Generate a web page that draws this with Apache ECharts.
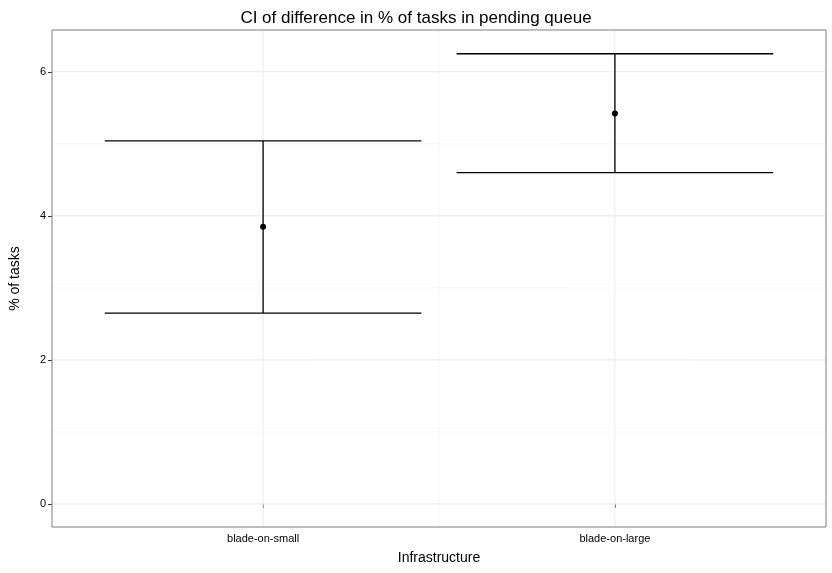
<!DOCTYPE html>
<html><head><meta charset="utf-8">
<script src="https://cdn.jsdelivr.net/npm/echarts@6/dist/echarts.min.js"></script>
<style>html,body{margin:0;padding:0;background:#fff}#c{width:832px;height:573px}</style>
</head><body><div id="c"></div>
<script>
const categories = ["blade-on-small", "blade-on-large"];
const estimate = [3.85, 5.42];
const lower = [2.65, 4.60];
const upper = [5.04, 6.25];
const yTicks = [0, 2, 4, 6];

const chart = echarts.init(document.getElementById('c'));
const data = categories.map((c, i) => [i + 1, estimate[i], lower[i], upper[i]]);
const grey = '#ebebeb';
chart.setOption({
  animation: false,
  title: {text: 'CI of difference in % of tasks in pending queue', left: 'center', top: 5,
    textStyle: {fontFamily: 'Liberation Sans', fontWeight: 'normal', fontSize: 17, color: '#000'}},
  grid: {left: 47, right: 6, top: 30, bottom: 46},
  xAxis: {type: 'value', min: 0.4, max: 2.6, interval: 0.5,
    name: 'Infrastructure', nameLocation: 'middle', nameGap: 24,
    nameTextStyle: {fontFamily: 'Liberation Sans', fontSize: 14, color: '#000'},
    axisLine: {show: false},
    axisTick: {show: true, length: 4, lineStyle: {color: '#333'}, customValues: [1, 2]},
    axisLabel: {customValues: [1, 2], formatter: v => categories[Math.round(v) - 1] || '',
      fontFamily: 'Liberation Sans', fontSize: 11, color: '#000', margin: 6},
    splitLine: {show: false}
  },
  yAxis: {type: 'value', min: -0.32, max: 6.58,
    name: '% of tasks', nameLocation: 'middle', nameGap: 30,
    nameTextStyle: {fontFamily: 'Liberation Sans', fontSize: 14, color: '#000'},
    axisLine: {show: false},
    axisTick: {show: true, length: 4, lineStyle: {color: '#333'}, customValues: yTicks},
    axisLabel: {customValues: yTicks, fontFamily: 'Liberation Sans', fontSize: 11, color: '#000', margin: 6},
    splitLine: {show: false}
  },
  series: [
    {type: 'custom', silent: true, z: 1, data: [0],
      renderItem: (params, api) => {
        const ch = [];
        const lines = [];
        [1, 1.5, 2].forEach(x => lines.push({x: x, major: x % 1 === 0, v: true}));
        [0, 1, 2, 3, 4, 5, 6].forEach(y => lines.push({y: y, major: y % 2 === 0}));
        lines.forEach(l => {
          let a, b;
          if (l.v) { a = api.coord([l.x, -0.32]); b = api.coord([l.x, 6.58]); }
          else { a = api.coord([0.4, l.y]); b = api.coord([2.6, l.y]); }
          ch.push({type: 'line', shape: {x1: a[0], y1: a[1], x2: b[0], y2: b[1]},
            style: {stroke: l.major ? '#ebebeb' : '#f5f5f5', lineWidth: l.major ? 1 : 0.8}});
        });
        const p0 = api.coord([0.4, -0.32]), p1 = api.coord([2.6, 6.58]);
        ch.push({type: 'rect', shape: {x: p0[0], y: p1[1], width: p1[0] - p0[0], height: p0[1] - p1[1]},
          style: {fill: 'none', stroke: '#7f7f7f', lineWidth: 1}});
        return {type: 'group', children: ch};
      }},
    {type: 'custom', z: 3, data: data,
      renderItem: (params, api) => {
        const x = api.value(0);
        const m = api.coord([x, api.value(1)]);
        const lo = api.coord([x, api.value(2)]);
        const hi = api.coord([x, api.value(3)]);
        const l = api.coord([x - 0.45, 0])[0], r = api.coord([x + 0.45, 0])[0];
        const st = {stroke: '#000', lineWidth: 1.3};
        return {type: 'group', children: [
          {type: 'line', shape: {x1: l, y1: hi[1], x2: r, y2: hi[1]}, style: st},
          {type: 'line', shape: {x1: l, y1: lo[1], x2: r, y2: lo[1]}, style: st},
          {type: 'line', shape: {x1: m[0], y1: lo[1], x2: m[0], y2: hi[1]}, style: st},
          {type: 'circle', shape: {cx: m[0], cy: m[1], r: 3}, style: {fill: '#000'}}
        ]};
      }}
  ]
});
</script></body></html>
